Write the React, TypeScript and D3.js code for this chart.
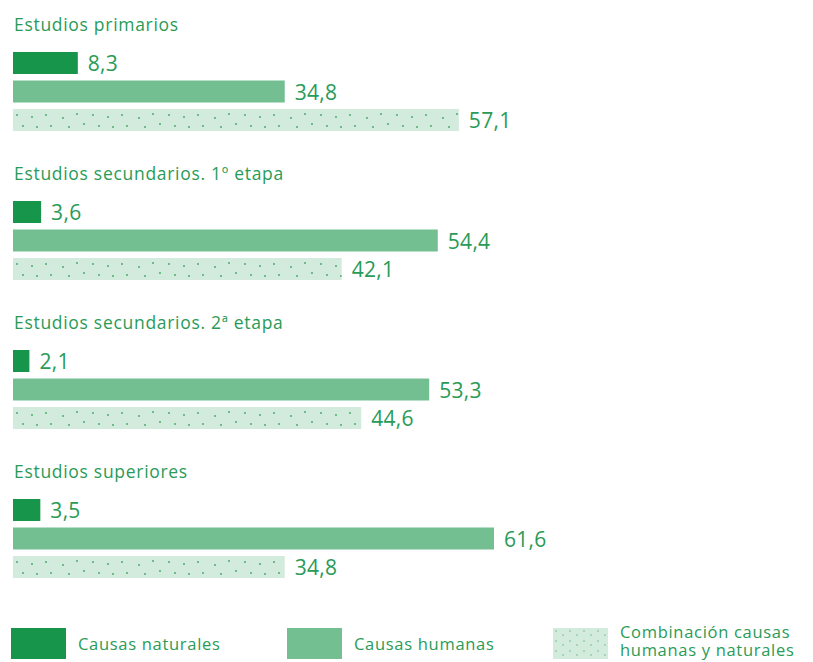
import { useMemo } from "react";
import * as d3 from "d3";

// categories and values
const groups = [
  "Estudios primarios",
  "Estudios secundarios. 1º etapa",
  "Estudios secundarios. 2ª etapa",
  "Estudios superiores",
];
const naturales = [8.3, 3.6, 2.1, 3.5];
const humanas = [34.8, 54.4, 53.3, 61.6];
const combinacion = [57.1, 42.1, 44.6, 34.8];
const seriesLabels = ["Causas naturales", "Causas humanas", "Combinación causas|humanas y naturales"];

const WIDTH = 813;
const HEIGHT = 662;
const TEXT = "#2a9b57";
const DARK = "#17954a";
const MID = "#73bf91";
const LIGHT = "#d3ebdc";
const FONT = "'Open Sans', 'Noto Sans', sans-serif";

// dot positions inside the pattern tile (style only)
const dots: [number, number][] = [
  [4, 5], [10, 16], [19, 7], [24, 17], [33, 5], [38, 16], [50, 8], [56, 17], [64, 4], [71, 14],
];

const fmt = (v: number) => String(v).replace(".", ",");

const App = () => {
  const x = useMemo(
    () => d3.scaleLinear().domain([0, 61.6]).range([13, 494]),
    []
  );
  const groupY = d3.scaleBand<string>().domain(groups).range([0, 596]).paddingInner(0);

  const series = [
    { values: naturales, fill: DARK },
    { values: humanas, fill: MID },
    { values: combinacion, fill: "url(#dots)" },
  ];

  return (
    <svg
      width={WIDTH}
      height={HEIGHT}
      style={{ position: "absolute", left: 0, top: 0, background: "#fff" }}
      fontFamily={FONT}
    >
      <defs>
        <pattern id="dots" patternUnits="userSpaceOnUse" width={76} height={22} x={13}>
          <rect width={76} height={22} fill={LIGHT} />
          {dots.map(([cx, cy], i) => (
            <circle key={i} cx={cx} cy={cy} r={0.9} fill="#3fa463" />
          ))}
        </pattern>
        <pattern id="dotsLegend" patternUnits="userSpaceOnUse" width={14} height={10} x={553} y={628}>
          <rect width={14} height={10} fill={LIGHT} />
          <circle cx={3} cy={3} r={0.8} fill="#6cbb88" />
          <circle cx={10} cy={7} r={0.8} fill="#6cbb88" />
        </pattern>
      </defs>
      {groups.map((g, gi) => {
        const y0 = groupY(g) || 0;
        return (
          <g key={g} transform={`translate(0, ${y0})`}>
            <text x={14} y={31} fontSize={17.5} fill={TEXT} letterSpacing={0.7}>
              {g}
            </text>
            {series.map((s, si) => {
              const v = s.values[gi];
              const by = 52 + si * 28.5;
              return (
                <g key={si}>
                  <rect x={x(0)} y={by} width={x(v) - x(0)} height={22} fill={s.fill} />
                  <text x={x(v) + 10} y={by + 19} fontSize={21} fill={TEXT} letterSpacing={0.3}>
                    {fmt(v)}
                  </text>
                </g>
              );
            })}
          </g>
        );
      })}
      {/* legend */}
      {[
        { x: 11, fill: DARK },
        { x: 287, fill: MID },
        { x: 553, fill: "url(#dotsLegend)" },
      ].map((l, i) => {
        const lines = seriesLabels[i].split("|");
        return (
          <g key={i}>
            <rect x={l.x} y={628} width={55} height={31} fill={l.fill} />
            {lines.map((ln, li) => (
              <text
                key={li}
                x={l.x + 67}
                y={lines.length === 1 ? 650 : 638 + li * 18}
                fontSize={16.5}
                fill={TEXT}
                letterSpacing={0.7}
              >
                {ln}
              </text>
            ))}
          </g>
        );
      })}
    </svg>
  );
};

export default App;
